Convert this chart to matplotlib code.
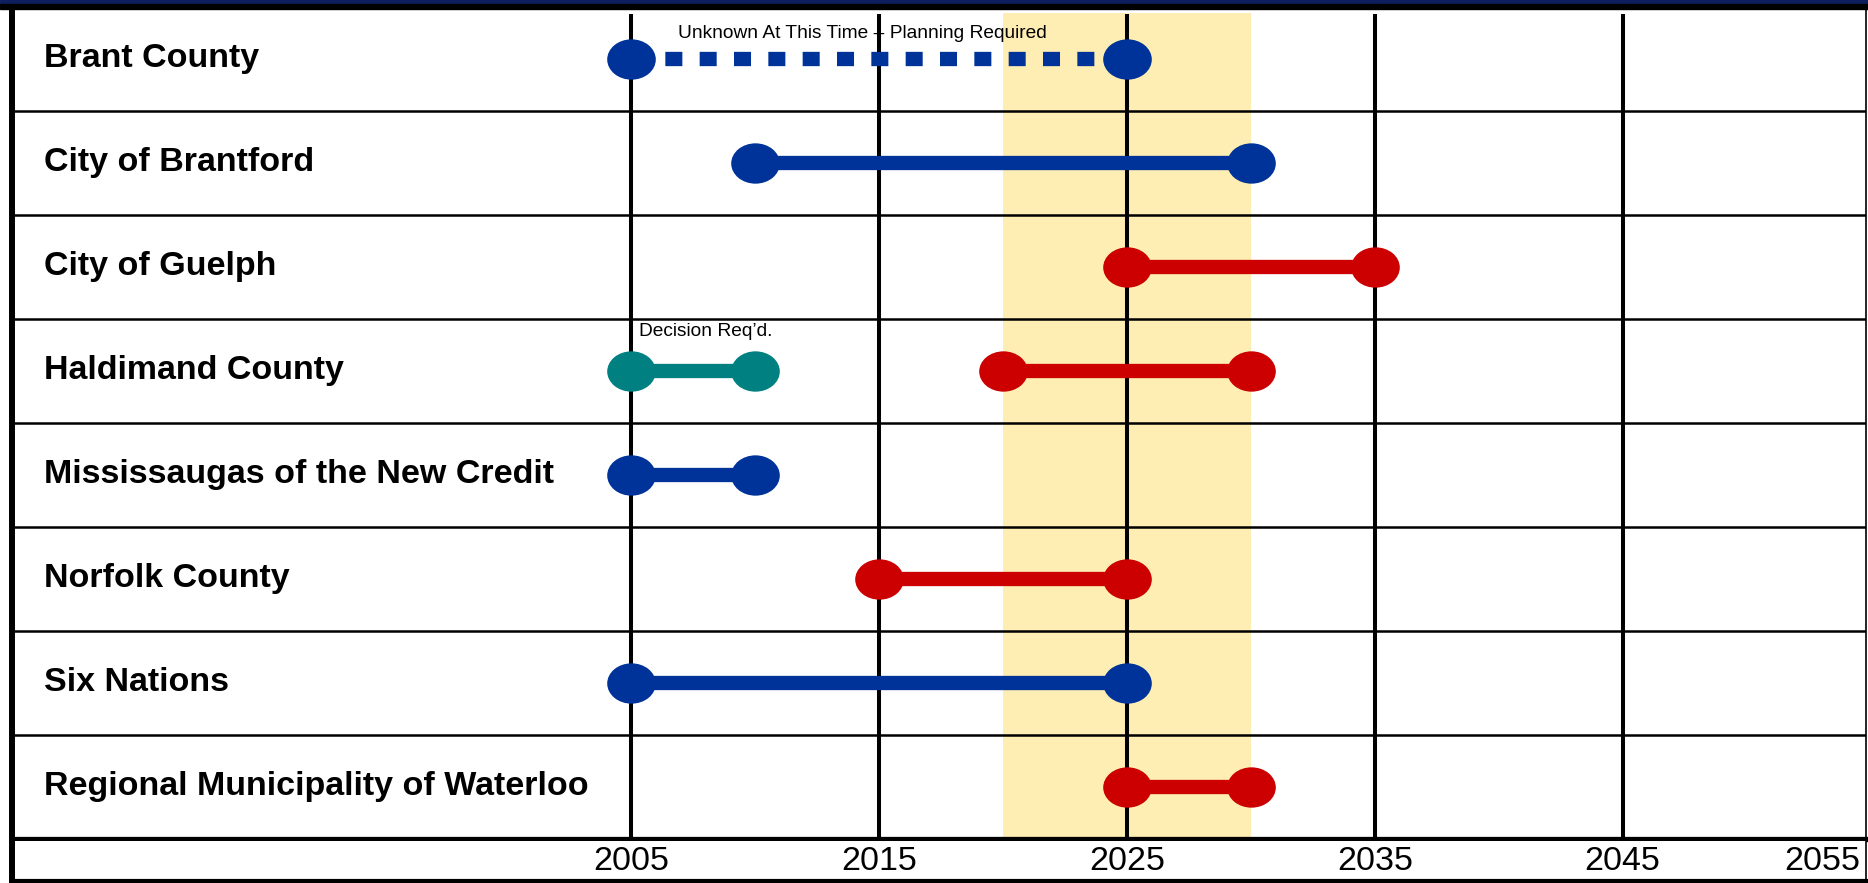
import matplotlib.pyplot as plt
from matplotlib.path import Path
from matplotlib.transforms import Affine2D
from matplotlib.patches import Rectangle

plt.rcParams['font.family'] = ['Liberation Sans', 'DejaVu Sans']

rows = ["Brant County", "City of Brantford", "City of Guelph", "Haldimand County",
        "Mississaugas of the New Credit", "Norfolk County", "Six Nations",
        "Regional Municipality of Waterloo"]

# one entry per bar
seg_row = [0, 1, 2, 3, 3, 4, 5, 6, 7]
seg_start = [2005, 2010, 2025, 2005, 2020, 2005, 2015, 2005, 2025]
seg_end = [2025, 2030, 2035, 2010, 2030, 2010, 2025, 2025, 2030]
seg_kind = ["unknown", "blue", "red", "decision", "red", "blue", "red", "blue", "red"]

years = [2005, 2015, 2025, 2035, 2045, 2055]
band = [2020, 2030]

kind_color = {"unknown": "#003399", "blue": "#003399", "red": "#CC0000", "decision": "#008080"}
notes = {"unknown": "Unknown At This Time \u2013 Planning Required", "decision": "Decision Req\u2019d."}
note_offset = {"unknown": (47, 25), "decision": (8, 39)}

W, H = 1868, 883
x0, x1 = 1980, 2054.82
fig = plt.figure(figsize=(W / 100, H / 100), dpi=100)

# header strip lines
fig.patches.append(Rectangle((0, 1 - 3 / H), 1, 3 / H, transform=fig.transFigure, color="#0D1F5E", zorder=5))
fig.patches.append(Rectangle((0, 1 - 9 / H), 1, 5 / H, transform=fig.transFigure, color="black", zorder=5))

ax = fig.add_axes([12 / W, 44.5 / H, 1854 / W, 832 / H])
ax.set_xlim(x0, x1)
ax.set_ylim(len(rows), 0)
ax.set_xticks([])
ax.set_yticks([])
for s, lw in [("left", 4.3), ("top", 3), ("bottom", 3.8), ("right", 1.2)]:
    ax.spines[s].set_linewidth(lw)
    ax.spines[s].set_color("black")

ax.axvspan(band[0], band[1], ymin=0, ymax=1 - 0.06 / len(rows), color="#FFEEB3", zorder=0, lw=0)
ax.vlines(years[:-1], 0.07, len(rows), color="black", lw=2.9, zorder=1)
ax.hlines(range(1, len(rows)), x0, x1, color="black", lw=1.8, zorder=1)

for i, name in enumerate(rows):
    ax.text(0.017, i + 0.5, name, transform=ax.get_yaxis_transform(), fontsize=24.5,
            fontweight="bold", ha="left", va="center")

ellipse = Path.unit_circle().transformed(Affine2D().scale(1, 0.83))

for r, a, b, k in zip(seg_row, seg_start, seg_end, seg_kind):
    c = kind_color[k]
    y = r + 0.5
    if k == "unknown":
        ax.plot([a, b], [y, y], color=c, lw=10.3, linestyle=(0, (1.19, 1.21)),
                dash_capstyle="butt", zorder=3)
    else:
        ax.plot([a, b], [y, y], color=c, lw=10.3, solid_capstyle="butt", zorder=3)
    ax.plot([a, b], [y, y], linestyle="none", marker=ellipse, ms=35, color=c,
            markeredgewidth=0, zorder=4)
    if k in notes:
        dx, dy = note_offset[k]
        ax.annotate(notes[k], xy=(a, y), xytext=(dx, dy), textcoords="offset pixels",
                    fontsize=13.8, ha="left", va="center", zorder=5)

# year strip
bx = fig.add_axes([12 / W, 2 / H, 1854 / W, 40 / H])
bx.set_xlim(x0, x1)
bx.set_ylim(0, 1)
bx.set_xticks([])
bx.set_yticks([])
for s, lw in [("left", 4.3), ("top", 0), ("bottom", 3), ("right", 1.2)]:
    bx.spines[s].set_linewidth(lw)
for yr in years:
    if yr == years[-1]:
        bx.text(0.997, 0.5, str(yr), transform=bx.transAxes, fontsize=24.5,
                ha="right", va="center")
    else:
        bx.text(yr, 0.5, str(yr), fontsize=24.5, ha="center", va="center")

fig.savefig("out.png", dpi=100)
